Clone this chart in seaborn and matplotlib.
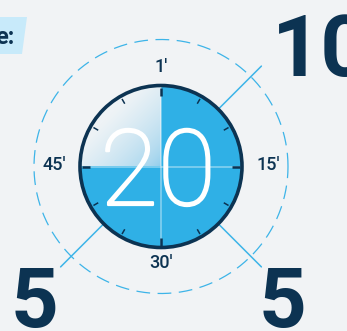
import numpy as np
import pandas as pd
import matplotlib
matplotlib.use('Agg')
import matplotlib.pyplot as plt
import matplotlib.patheffects as pe
from matplotlib.patches import Circle, Wedge, Polygon
import seaborn as sns

# chart content
center_value = "20"
minute_labels = ["1'", "15'", "30'", "45'"]
minute_angles = [90, 0, 270, 180]          # degrees, math convention
callout_values = ["10", "5", "5"]
callout_angles = [45, 225, 315]
title_tail = "e:"
tick_count = 12

BG = '#f1f3f5'
BLUE = '#2fb0e6'
LINE = '#3db4e8'
NAVY = '#0c3352'
W, H = 347, 331

sns.set_theme(style='white', rc={'figure.facecolor': BG, 'axes.facecolor': BG})
plt.rcParams['font.family'] = ['Roboto', 'DejaVu Sans']

fig = plt.figure(figsize=(W / 100, H / 100), dpi=100)
ax = fig.add_axes([0, 0, 1, 1])

def py(y):
    # pixel row -> data y
    return H - y

cx, cy = 161, py(166.5)
R = 81

# filled clock face
ax.add_patch(Circle((cx, cy), R, facecolor=BLUE, edgecolor='none', zorder=1))

# gradient quadrant (top-left)
gx = np.linspace(cx - R, cx, 200)
gy = np.linspace(cy, cy + R, 200)
X, Y = np.meshgrid(gx, gy)
t = np.clip(((cx - X) + (Y - cy)) / (R * 1.25), 0, 1) ** 0.6
c0 = np.array(matplotlib.colors.to_rgb('#8ccbeb'))
c1 = np.array(matplotlib.colors.to_rgb('#eef3f6'))
img = c0[None, None, :] * (1 - t[..., None]) + c1[None, None, :] * t[..., None]
im = ax.imshow(img, extent=(cx - R, cx, cy, cy + R), origin='lower', zorder=2,
               interpolation='bilinear')
wedge = Wedge((cx, cy), R, 90, 180, transform=ax.transData)
im.set_clip_path(wedge)

# faint cross lines
ax.plot([cx, cx], [cy - R, cy + R], color='white', alpha=0.45, lw=1.1, zorder=3)
ax.plot([cx - R, cx + R], [cy, cy], color='white', alpha=0.45, lw=1.1, zorder=3)

# ticks
for i in range(tick_count):
    a = np.deg2rad(i * 360 / tick_count)
    major = i % 3 == 0
    r0, r1 = (71, 79) if major else (72.5, 78)
    ax.plot([cx + r0 * np.cos(a), cx + r1 * np.cos(a)],
            [cy + r0 * np.sin(a), cy + r1 * np.sin(a)],
            color=NAVY, lw=1.8 if major else 1.1, solid_capstyle='butt', zorder=4)

# outline
ax.add_patch(Circle((cx, cy), R, facecolor='none', edgecolor=NAVY, lw=2.6, zorder=5))

# dashed outer ring
th = np.linspace(0, 2 * np.pi, 400)
ring = pd.DataFrame({'x': cx + 127 * np.cos(th), 'y': cy + 127 * np.sin(th)})
sns.lineplot(data=ring, x='x', y='y', sort=False, estimator=None, errorbar=None,
             ax=ax, color=LINE, lw=0.9, linestyle=(0, (11, 6)), zorder=1)

# callout lines
for ang in callout_angles:
    a = np.deg2rad(ang)
    ax.plot([cx + R * np.cos(a), cx + 142 * np.cos(a)],
            [cy + R * np.sin(a), cy + 142 * np.sin(a)],
            color=LINE, lw=1.1, zorder=1)

# minute labels
for lab, ang in zip(minute_labels, minute_angles):
    a = np.deg2rad(ang)
    rr = 98 if ang in (90, 270) else 107
    ax.text(cx + rr * np.cos(a), cy + rr * np.sin(a) + 2, lab, ha='center', va='center',
            fontsize=13, fontweight='medium', color=NAVY, zorder=6)

# centre value
ax.text(158, py(205), center_value, ha='center', va='baseline', fontsize=76,
        fontweight='light', color='white', zorder=6,
        path_effects=[pe.withStroke(linewidth=1.6, foreground='white')])

# callout numbers
ax.text(272, py(76), callout_values[0], ha='left', va='baseline', fontsize=62,
        fontweight='bold', color=NAVY)
ax.text(11, py(327), callout_values[1], ha='left', va='baseline', fontsize=60,
        fontweight='bold', color=NAVY)
ax.text(259, py(327), callout_values[2], ha='left', va='baseline', fontsize=60,
        fontweight='bold', color=NAVY)

# title tag (cut at the left edge)
ax.add_patch(Polygon([(0, py(17)), (27, py(17)), (22, py(54)), (0, py(54))],
                     closed=True, facecolor='#c8eafa', edgecolor='none'))
ax.text(15, py(44), title_tail, ha='right', va='baseline', fontsize=17,
        fontweight='bold', color=NAVY)

ax.set_xlim(0, W)
ax.set_ylim(0, H)
ax.set_aspect('auto')
ax.axis('off')

fig.savefig('out.png', dpi=100, facecolor=BG)
